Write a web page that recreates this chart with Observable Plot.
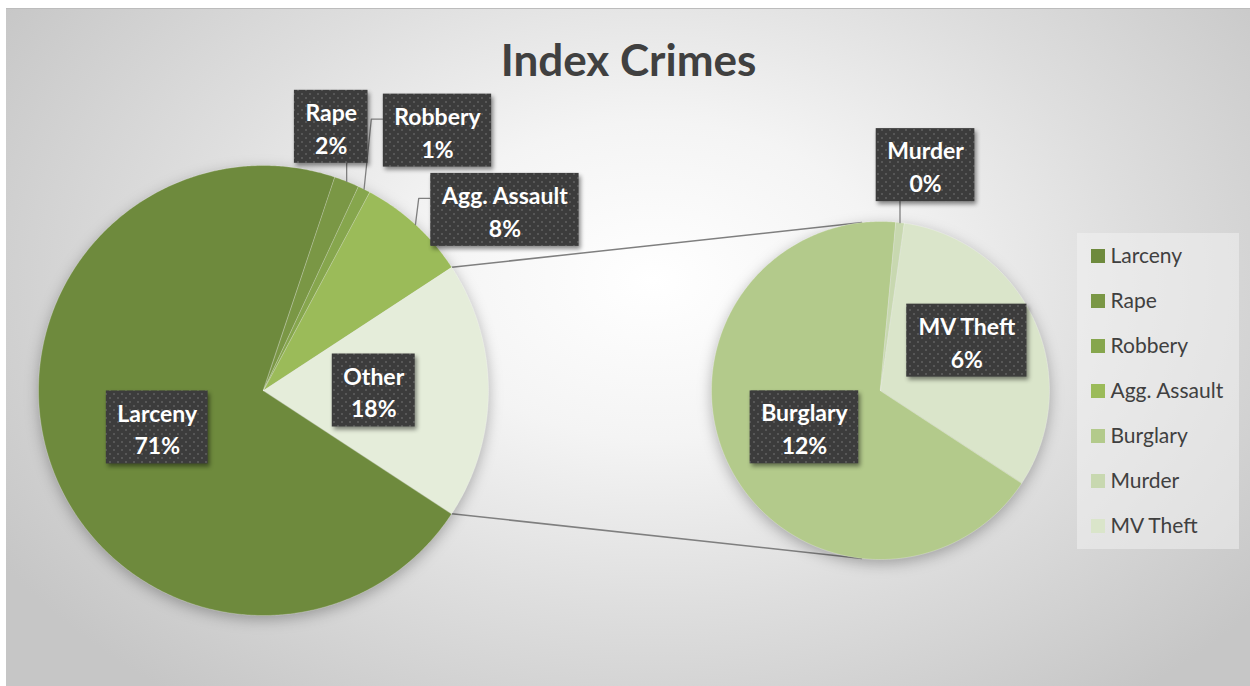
<!DOCTYPE html>
<html><head><meta charset="utf-8">
<script src="https://cdn.jsdelivr.net/npm/d3@7"></script>
<script src="https://cdn.jsdelivr.net/npm/@observablehq/plot@0.6"></script>
<style>
html,body{margin:0;padding:0;background:#fff;}
#wrap{position:relative;width:1250px;height:686px;overflow:hidden;}
#bg{position:absolute;left:6px;top:8px;width:1244px;height:678px;
 background: radial-gradient(ellipse 62% 78% at 52% 40%, #ffffff 0%, #f4f4f4 30%, #dedede 62%, #c6c6c6 100%);
 border-top:1px solid #bcbcbc;}
#chart{position:absolute;left:0;top:0;}
g[aria-description="pie"]{filter:drop-shadow(0 4px 7px rgba(0,0,0,0.28));}
g[aria-description="label-box"]{filter:drop-shadow(2px 3px 2px rgba(0,0,0,0.45));}
</style></head>
<body><div id="wrap"><div id="bg"></div><div id="chart"></div></div>
<script>
// ---------- data ----------
const title = "Index Crimes";
const categories = ["Larceny", "Rape", "Robbery", "Agg. Assault", "Burglary", "Murder", "MV Theft"];
const values = [70.9, 1.8, 0.9, 7.95, 12.4, 0.15, 5.9];   // percent of all index crimes
const secondaryCount = 3;            // last three categories are split into the second pie
const otherLabel = "Other";

// ---------- styles ----------
const sliceColors = ["#6e8a3d", "#7a9745", "#86a64d", "#9bbb59", "#b3ca8b", "#c8d8b0", "#dae5ca"];
const otherColor = "#e5edda";
const textColor = "#404040";
const lineColor = "#7f7f7f";
const fontFamily = "Lato, 'Open Sans', sans-serif";

// ---------- layout ----------
const W = 1250, H = 686;
const P1 = {cx: 263, cy: 390, r: 225};
const P2 = {cx: 880, cy: 390, r: 169};
const labelFont = 23, labelPad = 11, labelBoxH = 73;
const labelPlacement = {
  "Larceny": {rf: 0.5},
  "Other": {rf: 0.49},
  "Burglary": {rf: 0.5},
  "MV Theft": {rf: 0.59, angle: 60},
  "Rape": {rf: 1.21, angle: 14.4, leader: "bottom"},
  "Robbery": {rf: 1.39, angle: 33.8, leader: "left"},
  "Agg. Assault": {rf: 1.34, angle: 53.2, leader: "left"},
  "Murder": {rf: 1.36, angle: 11.3, leader: "bottom"}
};
const legendBox = {x1: 1077, x2: 1239, y1: 233, y2: 549};
const legendRow0 = 256, legendStep = 45, swatchX = 1091, swatchSize = 14, legendTextX = 1110;

// ---------- geometry ----------
const deg = Math.PI / 180;
const pt = (c, a, rf = 1) => [c.cx + c.r * rf * Math.sin(a * deg), c.cy - c.r * rf * Math.cos(a * deg)];

const nPrimary = categories.length - secondaryCount;
const total = d3.sum(values);
const otherVal = d3.sum(values.slice(nPrimary));
const otherSpan = otherVal / total * 360;
const otherStart = 90 - otherSpan / 2, otherEnd = otherStart + otherSpan;

const slices = [];
let a = otherEnd;
for (let i = 0; i < nPrimary; i++) {
  const span = values[i] / total * 360;
  slices.push({name: categories[i], pie: P1, a0: a, a1: a + span, pct: values[i]});
  a += span;
}
slices.push({name: otherLabel, pie: P1, a0: otherStart, a1: otherEnd, pct: otherVal});
a = otherEnd;
for (let i = nPrimary; i < categories.length; i++) {
  const span = values[i] / otherVal * 360;
  slices.push({name: categories[i], pie: P2, a0: a, a1: a + span, pct: values[i]});
  a += span;
}

function slicePoints(s) {
  const pts = [[s.pie.cx, s.pie.cy]];
  const n = Math.max(2, Math.ceil((s.a1 - s.a0) / 0.5));
  for (let k = 0; k <= n; k++) pts.push(pt(s.pie, s.a0 + (s.a1 - s.a0) * k / n));
  return pts.map(([x, y]) => ({name: s.name, x, y}));
}
const pie1Rows = slices.filter(s => s.pie === P1).flatMap(slicePoints);
const pie2Rows = slices.filter(s => s.pie === P2).flatMap(slicePoints);

// connector lines: from the edges of "Other" to tangent points of the second pie
function tangent(p, c, upper) {
  const dx = p[0] - c.cx, dy = p[1] - c.cy;
  const d = Math.hypot(dx, dy);
  const base = Math.atan2(dx, -dy) / deg;
  const off = Math.acos(c.r / d) / deg;
  return pt(c, upper ? base + off : base - off);
}
const e1 = pt(P1, otherStart), e2 = pt(P1, otherEnd);
const t1 = tangent(e1, P2, true), t2 = tangent(e2, P2, false);
const connectors = [{p: e1, q: t1}, {p: e2, q: t2}];

// labels
const canvas = document.createElement("canvas");
const ctx = canvas.getContext("2d");
ctx.font = `bold ${labelFont}px Lato`;
const labels = slices.map(s => {
  const pl = labelPlacement[s.name] || {rf: 0.5};
  const mid = (s.a0 + s.a1) / 2;
  const [lx, ly] = pt(s.pie, pl.angle ?? mid, pl.rf);
  const text = `${s.name}\n${Math.round(s.pct)}%`;
  const w = Math.max(...text.split("\n").map(t => ctx.measureText(t).width)) + 2 * labelPad;
  return {name: s.name, text, x: lx, y: ly, x1: lx - w / 2, x2: lx + w / 2,
          y1: ly - labelBoxH / 2, y2: ly + labelBoxH / 2, mid, pie: s.pie, leader: pl.leader};
});
const leaderRows = labels.filter(l => l.leader).flatMap(l => {
  const [ax, ay] = pt(l.pie, l.mid, 1);
  if (l.leader === "bottom") return [{name: l.name, x: ax, y: ay}, {name: l.name, x: ax, y: l.y2}];
  const yy = l.y1 + 25;
  return [{name: l.name, x: ax, y: ay}, {name: l.name, x: l.x1 - 12, y: yy}, {name: l.name, x: l.x1, y: yy}];
});

// ---------- plot ----------
const plot = Plot.plot({
  width: W, height: H, margin: 0,
  x: {domain: [0, W], range: [0, W], axis: null},
  y: {domain: [0, H], range: [0, H], axis: null},
  color: {domain: [...categories, otherLabel], range: [...sliceColors, otherColor]},
  style: {background: "transparent", overflow: "visible"},
  marks: [
    Plot.text([title], {x: () => 628, y: () => 61, text: d => d, fontSize: 44, fontWeight: "bold",
      fill: textColor, fontFamily, lineAnchor: "middle"}),
    Plot.link(connectors, {x1: d => d.p[0], y1: d => d.p[1], x2: d => d.q[0], y2: d => d.q[1],
      stroke: lineColor, strokeWidth: 1.5}),
    Plot.line(pie1Rows, {x: "x", y: "y", z: "name", fill: "name", stroke: "#ffffff", strokeOpacity: 0.3,
      strokeWidth: 0.8, curve: "linear-closed", ariaDescription: "pie"}),
    Plot.line(pie2Rows, {x: "x", y: "y", z: "name", fill: "name", stroke: "#ffffff", strokeOpacity: 0.3,
      strokeWidth: 0.8, curve: "linear-closed", ariaDescription: "pie"}),
    Plot.line(leaderRows, {x: "x", y: "y", z: "name", stroke: lineColor, strokeWidth: 1.3, curve: "linear"}),
    Plot.rect(labels, {x1: "x1", x2: "x2", y1: "y1", y2: "y2", fill: "url(#dots)", ariaDescription: "label-box"}),
    Plot.text(labels, {x: "x", y: "y", text: "text", fill: "white", fontSize: labelFont, fontWeight: "bold",
      fontFamily, lineAnchor: "middle", lineHeight: 1.43}),
    // legend
    Plot.rect([0], {x1: () => legendBox.x1, x2: () => legendBox.x2, y1: () => legendBox.y1, y2: () => legendBox.y2,
      fill: "#f4f4f4", fillOpacity: 0.5}),
    Plot.rect(categories, {x1: () => swatchX, x2: () => swatchX + swatchSize,
      y1: (d, i) => legendRow0 + i * legendStep - swatchSize / 2, y2: (d, i) => legendRow0 + i * legendStep + swatchSize / 2,
      fill: d => d}),
    Plot.text(categories, {x: () => legendTextX, y: (d, i) => legendRow0 + i * legendStep, text: d => d,
      textAnchor: "start", fontSize: 21, fill: textColor, fontFamily, lineAnchor: "middle"})
  ]
});

const defs = d3.select(plot).insert("defs", ":first-child");
const pat = defs.append("pattern").attr("id", "dots").attr("width", 8).attr("height", 8)
  .attr("patternUnits", "userSpaceOnUse");
pat.append("rect").attr("width", 8).attr("height", 8).attr("fill", "#3c3c3c");
pat.append("rect").attr("x", 1).attr("y", 1).attr("width", 2).attr("height", 2).attr("fill", "#575757");
pat.append("rect").attr("x", 5).attr("y", 5).attr("width", 2).attr("height", 2).attr("fill", "#575757");

document.getElementById("chart").appendChild(plot);
</script>
</body></html>
